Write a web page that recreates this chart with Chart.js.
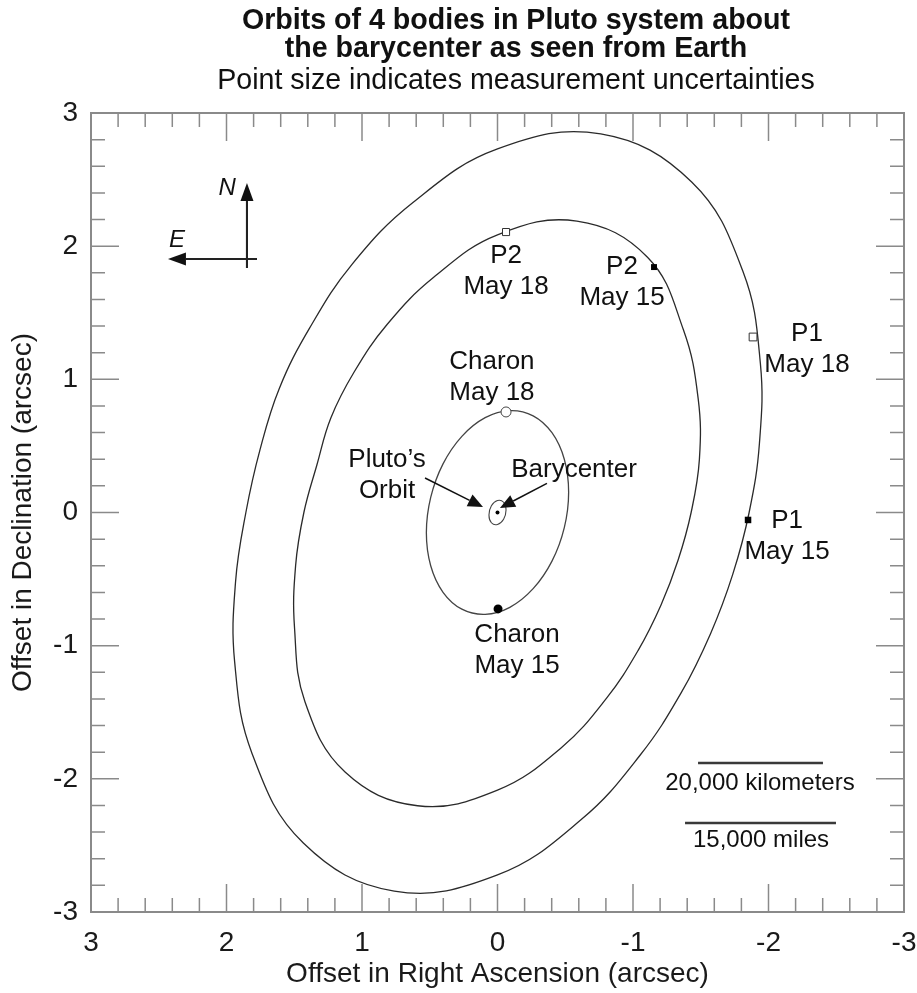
<!DOCTYPE html>
<html>
<head>
<meta charset="utf-8">
<script src="https://cdn.jsdelivr.net/npm/chart.js@4.4.0/dist/chart.umd.min.js"></script>
<style>
  html, body { margin: 0; padding: 0; background: #fff; }
</style>
</head>
<body>
<canvas id="chart" width="917" height="993"></canvas>
<script>
// orbit traces (arcsec), going round each ellipse
const p1OrbitX = [1.857, 1.753, 1.611, 1.386, 1.075, 0.624, 0, -0.762, -1.433, -1.811, -1.940, -1.933, -1.857, -1.736, -1.573, -1.355, -1.052, -0.618, 0, 0.762, 1.433, 1.811, 1.940, 1.933];
const p1OrbitY = [0, 0.470, 0.930, 1.386, 1.862, 2.328, 2.730, 2.843, 2.482, 1.811, 1.120, 0.518, 0, -0.465, -0.908, -1.355, -1.823, -2.306, -2.722, -2.843, -2.482, -1.811, -1.120, -0.518];

const p2OrbitX = [1.429, 1.333, 1.230, 1.057, 0.815, 0.473, 0, -0.586, -1.107, -1.372, -1.481, -1.490, -1.429, -1.333, -1.206, -1.037, -0.805, -0.473, 0, 0.590, 1.125, 1.421, 1.498, 1.490];
const p2OrbitY = [0, 0.357, 0.710, 1.057, 1.412, 1.764, 2.085, 2.188, 1.917, 1.372, 0.855, 0.399, 0, -0.357, -0.696, -1.037, -1.394, -1.764, -2.085, -2.202, -1.949, -1.421, -0.865, -0.399];

const charonOrbitX = [0.525, 0.493, 0.402, 0.263, 0.091, -0.091, -0.263, -0.402, -0.493, -0.525, -0.493, -0.402, -0.263, -0.091, 0.091, 0.263, 0.402, 0.493];
const charonOrbitY = [-0.153, 0.113, 0.365, 0.572, 0.712, 0.765, 0.726, 0.599, 0.400, 0.153, -0.113, -0.365, -0.572, -0.712, -0.765, -0.726, -0.599, -0.400];

const plutoOrbitX = [0.063, 0.045, 0, -0.045, -0.063, -0.045, 0, 0.045];
const plutoOrbitY = [-0.018, 0.051, 0.090, 0.077, 0.018, -0.051, -0.090, -0.077];

// observed positions: P1, P2, Charon
const may15X = [-1.849, -1.155, -0.004];
const may15Y = [-0.056, 1.843, -0.724];
const may18X = [-1.886, -0.063, -0.063];
const may18Y = [1.318, 2.106, 0.755];
const baryX = [0];
const baryY = [0];

// scale bars
const kmBarX = [-1.480, -2.402];
const kmBarY = [-1.881, -1.881];
const miBarX = [-1.384, -2.498];
const miBarY = [-2.331, -2.331];

const axisTicks = [-3, -2, -1, 0, 1, 2, 3];

const FONT = "'Liberation Sans', Arial, Helvetica, sans-serif";

function pts(xs, ys, idx) {
  return idx.map(i => ({ x: xs[i], y: ys[i] }));
}

// closed orbit: pad one point on each side, hide the padded segments
function orbit(xs, ys, color, width) {
  const n = xs.length;
  const idx = [n - 1];
  for (let i = 0; i < n; i++) idx.push(i);
  idx.push(0, 1);
  return {
    type: 'line',
    data: pts(xs, ys, idx),
    borderColor: color,
    borderWidth: width,
    pointRadius: 0,
    tension: 0.4,
    fill: false,
    segment: {
      borderColor: c => (c.p0DataIndex === 0 || c.p0DataIndex === n + 1) ? 'rgba(0,0,0,0)' : color
    }
  };
}

function bar(xs, ys) {
  return {
    type: 'line',
    data: pts(xs, ys, [0, 1]),
    borderColor: '#3a3a3a',
    borderWidth: 2.5,
    pointRadius: 0
  };
}

const notes = [
  { text: ['P2', 'May 18'], x: -0.063, y: 1.813 },
  { text: ['P2', 'May 15'], x: -0.919, y: 1.730 },
  { text: ['P1', 'May 18'], x: -2.284, y: 1.224 },
  { text: ['P1', 'May 15'], x: -2.137, y: -0.180 },
  { text: ['Charon', 'May 18'], x: 0.041, y: 1.014 },
  { text: ['Charon', 'May 15'], x: -0.144, y: -1.032 },
  { text: ["Pluto\u2019s", 'Orbit'], x: 0.815, y: 0.282 },
  { text: ['Barycenter'], x: -0.565, y: 0.319 }
];

const arrows = [
  { x0: 0.535, y0: 0.259, x1: 0.107, y1: 0.041 },
  { x0: -0.365, y0: 0.219, x1: -0.018, y1: 0.034 }
];

const overlay = {
  id: 'overlay',
  beforeDatasetsDraw(chart) {
    const { ctx, chartArea: a, scales } = chart;
    ctx.save();
    ctx.strokeStyle = '#8a8a8a';
    ctx.lineWidth = 1.5;
    for (let k = -14; k <= 14; k++) {
      const v = k / 5;
      const len = k % 5 === 0 ? 28 : 14;
      const xp = scales.x.getPixelForValue(v);
      const yp = scales.y.getPixelForValue(v);
      ctx.beginPath();
      ctx.moveTo(xp, a.top); ctx.lineTo(xp, a.top + len);
      ctx.moveTo(xp, a.bottom); ctx.lineTo(xp, a.bottom - len);
      ctx.moveTo(a.left, yp); ctx.lineTo(a.left + len, yp);
      ctx.moveTo(a.right, yp); ctx.lineTo(a.right - len, yp);
      ctx.stroke();
    }
    ctx.lineWidth = 2;
    ctx.strokeRect(a.left, a.top, a.right - a.left, a.bottom - a.top);
    ctx.restore();
  },
  afterDatasetsDraw(chart) {
    const { ctx, scales } = chart;
    const X = v => scales.x.getPixelForValue(v);
    const Y = v => scales.y.getPixelForValue(v);
    ctx.save();
    ctx.fillStyle = '#111';
    ctx.textAlign = 'center';
    ctx.textBaseline = 'middle';

    // title block
    ctx.font = 'bold 28.6px ' + FONT;
    ctx.fillText('Orbits of 4 bodies in Pluto system about', 516, 21);
    ctx.fillText('the barycenter as seen from Earth', 516, 49);
    ctx.font = '28.6px ' + FONT;
    ctx.fillText('Point size indicates measurement uncertainties', 516, 81);

    ctx.font = '26px ' + FONT;
    notes.forEach(n => {
      const lh = 31;
      const y0 = Y(n.y) - (n.text.length - 1) * lh / 2;
      n.text.forEach((t, i) => ctx.fillText(t, X(n.x), y0 + i * lh));
    });
    ctx.font = '24px ' + FONT;
    ctx.fillText('20,000 kilometers', X(-1.937), Y(-2.031));
    ctx.fillText('15,000 miles', X(-1.945), Y(-2.459));

    ctx.strokeStyle = '#111';
    ctx.lineWidth = 1.5;
    const head = (x0, y0, x1, y1, len, half) => {
      const ang = Math.atan2(y1 - y0, x1 - x0);
      const c = Math.cos(ang), s = Math.sin(ang);
      const bx = x1 - len * c, by = y1 - len * s;
      ctx.beginPath();
      ctx.moveTo(x0, y0); ctx.lineTo(bx, by); ctx.stroke();
      ctx.beginPath();
      ctx.moveTo(x1, y1);
      ctx.lineTo(bx + half * s, by - half * c);
      ctx.lineTo(bx - half * s, by + half * c);
      ctx.closePath();
      ctx.fill();
    };
    arrows.forEach(r => head(X(r.x0), Y(r.y0), X(r.x1), Y(r.y1), 15, 6.5));

    // compass
    ctx.lineWidth = 2;
    ctx.strokeStyle = '#222';
    ctx.beginPath();
    ctx.moveTo(X(1.849), Y(1.836)); ctx.lineTo(X(1.849), Y(2.35));
    ctx.moveTo(X(1.775), Y(1.903)); ctx.lineTo(X(2.30), Y(1.903));
    ctx.stroke();
    head(X(1.849), Y(1.836), X(1.849), Y(2.474), 18, 6.5);
    head(X(1.775), Y(1.903), X(2.432), Y(1.903), 18, 6.5);
    ctx.font = 'italic 24px ' + FONT;
    ctx.fillText('N', X(1.996), Y(2.436));
    ctx.fillText('E', X(2.365), Y(2.046));
    ctx.restore();
  }
};

new Chart(document.getElementById('chart'), {
  type: 'scatter',
  data: {
    datasets: [
      { data: pts(baryX, baryY, [0]), pointStyle: 'circle', pointRadius: 2, backgroundColor: '#000', borderColor: '#000', borderWidth: 0 },
      { data: pts(may15X, may15Y, [0]), pointStyle: 'rect', pointRadius: 4.6, backgroundColor: '#000', borderColor: '#000', borderWidth: 0 },
      { data: pts(may15X, may15Y, [1]), pointStyle: 'rect', pointRadius: 4.2, backgroundColor: '#000', borderColor: '#000', borderWidth: 0 },
      { data: pts(may15X, may15Y, [2]), pointStyle: 'circle', pointRadius: 4.5, backgroundColor: '#000', borderColor: '#000', borderWidth: 0 },
      { data: pts(may18X, may18Y, [0]), pointStyle: 'rect', pointRadius: 5.5, backgroundColor: '#fff', borderColor: '#333', borderWidth: 1 },
      { data: pts(may18X, may18Y, [1]), pointStyle: 'rect', pointRadius: 5, backgroundColor: '#fff', borderColor: '#333', borderWidth: 1 },
      { data: pts(may18X, may18Y, [2]), pointStyle: 'circle', pointRadius: 5, backgroundColor: '#fff', borderColor: '#444', borderWidth: 1 },
      orbit(p1OrbitX, p1OrbitY, '#2a2a2a', 1.3),
      orbit(p2OrbitX, p2OrbitY, '#2a2a2a', 1.3),
      orbit(charonOrbitX, charonOrbitY, '#444', 1.3),
      orbit(plutoOrbitX, plutoOrbitY, '#444', 1.1),
      bar(kmBarX, kmBarY),
      bar(miBarX, miBarY)
    ]
  },
  options: {
    responsive: false,
    animation: false,
    layout: { padding: { left: 0, right: 13, top: 113, bottom: 0 } },
    plugins: {
      legend: { display: false },
      tooltip: { enabled: false },
      title: { display: false },
      subtitle: { display: false }
    },
    scales: {
      x: {
        type: 'linear',
        min: -3, max: 3,
        reverse: true,
        afterBuildTicks: s => { s.ticks = axisTicks.map(v => ({ value: v })); },
        afterFit: s => { s.height = 81; },
        grid: { display: false, drawTicks: false },
        border: { display: false },
        ticks: { color: '#1a1a1a', padding: 14, font: { family: FONT, size: 28 } },
        title: {
          display: true,
          text: 'Offset in Right Ascension (arcsec)',
          color: '#1a1a1a',
          font: { family: FONT, size: 28 },
          padding: { top: 0, bottom: 2 }
        }
      },
      y: {
        type: 'linear',
        min: -3, max: 3,
        afterBuildTicks: s => { s.ticks = axisTicks.map(v => ({ value: v })); },
        afterFit: s => { s.width = 91; },
        grid: { display: false, drawTicks: false },
        border: { display: false },
        ticks: { color: '#1a1a1a', padding: 13, font: { family: FONT, size: 28 } },
        title: {
          display: true,
          text: 'Offset in Declination (arcsec)',
          color: '#1a1a1a',
          font: { family: FONT, size: 28 },
          padding: { top: 6, bottom: 0 }
        }
      }
    }
  },
  plugins: [overlay]
});
</script>
</body>
</html>
